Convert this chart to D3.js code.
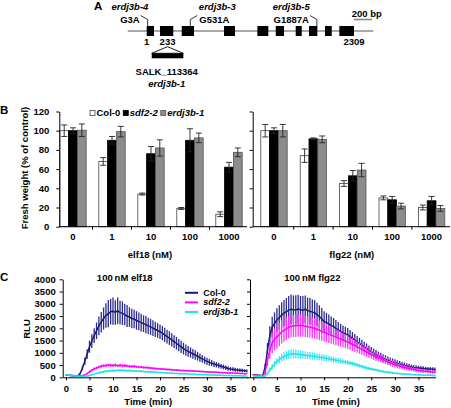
<!DOCTYPE html>
<html><head><meta charset="utf-8">
<script src="https://cdn.jsdelivr.net/npm/d3@7"></script>
<style>
body{margin:0;background:#fff}
svg text{font-family:"Liberation Sans",Arial,Helvetica,sans-serif;font-weight:bold;fill:#000;font-size:9.5px}
</style></head><body><svg id="c" width="451" height="408"></svg>
<script>
// ---------- Panel A data (bp) ----------
const geneLength = 2309;
const lineSpan = [-210, 2525];
const exonStarts = [1, 149, 391, 862, 1233, 1438, 1660, 1808, 1986, 2146];
const exonEnds   = [82, 297, 528, 984, 1355, 1530, 1727, 1901, 2061, 2309];
const posLabels = [1, 233, 2309];
const mutAlleles = ["erdj3b-4", "erdj3b-3", "erdj3b-5"];
const mutChanges = ["G3A", "G531A", "G1887A"];
const mutPositions = [3, 531, 1887];
const mutSides = ["left", "right", "left"];
const tdnaPos = 233;
const tdnaName = "SALK_113364";
const tdnaAllele = "erdj3b-1";
const scaleBarBp = 200;

// ---------- Panel B data ----------
const genotypes = ["Col-0", "sdf2-2", "erdj3b-1"];
const doses = ["0", "1", "10", "100", "1000"];
const bTicks = [0, 20, 40, 60, 80, 100, 120];
const elf18Col0 = [100, 68, 34, 19, 13];
const elf18Sdf  = [100, 90, 76, 90, 62];
const elf18Erd  = [100.5, 99, 82, 92.5, 77.5];
const elf18Col0Err = [6, 4, 1, 1, 2.5];
const elf18SdfErr  = [3, 4, 7.5, 12, 5];
const elf18ErdErr  = [6.5, 5.5, 8.5, 5, 4.5];
const flg22Col0 = [100, 74, 45, 30, 20];
const flg22Sdf  = [100, 91.5, 53, 28, 27];
const flg22Erd  = [100, 91, 59, 21.5, 19];
const flg22Col0Err = [6.5, 7, 3, 2, 2.5];
const flg22SdfErr  = [3, 1, 5.5, 3.5, 4.5];
const flg22ErdErr  = [6.5, 3.5, 7, 3, 3];

// ---------- Panel C data (RLU, every 0.5 min from 0 to 38.5) ----------
const times = d3.range(0, 39, 0.5);
const cTicksY = [0, 500, 1000, 1500, 2000, 2500, 3000, 3500, 4000];
const cTicksX = [0, 5, 10, 15, 20, 25, 30, 35];
const elfCol0 = [90,80,70,60,50,50,150,380,650,950, 1250,1480,1700,1900,2100,2250,2400,2520,2600,2680, 2700,2650,2720,2640,2620,2560,2500,2460,2400,2380, 2320,2280,2230,2190,2150,2100,2060,2010,1960,1910, 1860,1800,1730,1660,1600,1530,1460,1390,1310,1240, 1170,1110,1060,1010,960,910,860,800,750,700, 650,610,580,540,510,480,450,420,390,360, 340,330,310,300,290,280,270,260];
const elfCol0Err = [30,30,25,25,20,20,40,90,150,200, 250,280,300,340,380,420,450,500,560,520, 560,500,540,480,480,440,450,400,400,380, 380,360,360,340,350,330,330,320,310,300, 300,290,290,280,280,270,260,260,250,250, 240,230,220,210,200,190,180,170,160,150, 150,140,130,120,110,110,100,100,90,90, 80,80,80,70,70,70,60,60];
const elfSdf = [100,90,80,70,60,60,60,70,90,150, 220,290,340,380,420,450,470,480,500,490, 480,500,470,490,470,480,460,450,440,450, 430,420,420,400,400,390,380,370,360,350, 340,340,330,320,320,310,300,300,290,280, 280,270,270,260,260,250,250,240,240,230, 230,220,220,210,210,200,200,190,190,180, 180,180,170,170,160,160,150,150];
const elfSdfErr = [20,20,20,20,20,20,20,20,30,40, 50,50,60,60,60,70,60,70,60,70, 60,70,60,70,60,60,60,60,50,60, 50,50,50,50,50,50,50,40,40,40, 40,40,40,40,40,40,40,40,30,30, 30,30,30,30,30,30,30,30,30,30, 30,30,30,30,30,30,20,20,20,20, 20,20,20,20,20,20,20,20];
const elfErd = [100,90,80,60,50,40,40,40,40,50, 70,100,130,160,190,210,230,250,260,270, 280,270,290,280,290,280,270,280,270,260, 260,250,250,240,230,230,220,210,210,200, 200,190,190,180,170,170,160,160,150,150, 140,140,130,130,120,120,110,110,100,100, 100,90,90,90,80,80,80,70,70,70, 70,60,60,60,60,50,50,50];
const elfErdErr = [20,20,20,20,20,20,20,20,20,20, 30,30,30,40,40,40,50,50,50,50, 50,50,50,50,50,50,50,50,40,40, 40,40,40,40,40,40,40,30,30,30, 30,30,30,30,30,30,30,30,30,30, 20,20,20,20,20,20,20,20,20,20, 20,20,20,20,20,20,20,20,20,20, 20,20,20,20,20,20,20,20];
const flgCol0 = [100,90,80,70,70,400,1100,1700,2050,2200, 2340,2440,2540,2620,2680,2740,2780,2760,2750,2790, 2760,2740,2780,2720,2700,2660,2640,2560,2480,2380, 2280,2230,2180,2120,2070,2000,1940,1870,1810,1770, 1730,1660,1590,1520,1450,1380,1310,1240,1180,1110, 1050,990,930,880,830,780,740,700,660,630, 600,570,540,510,480,460,440,420,400,390, 380,370,360,350,340,340,330,320];
const flgCol0Err = [30,30,30,30,30,150,300,380,420,450, 480,500,520,540,560,580,600,580,600,580, 560,580,560,540,540,520,500,480,460,450, 420,400,380,360,350,340,320,310,300,290, 280,270,260,250,240,230,220,210,200,190, 190,180,180,170,170,160,160,150,150,140, 140,130,130,120,120,110,110,100,100,100, 90,90,90,80,80,80,80,80];
const flgSdf = [80,70,60,60,60,200,700,1100,1400,1550, 1650,1750,1850,1920,1980,2040,2080,2100,2100,2120, 2100,2120,2080,2060,2050,2020,2000,1960,1920,1880, 1840,1800,1760,1720,1680,1640,1600,1560,1520,1480, 1440,1390,1340,1290,1240,1190,1140,1090,1040,990, 940,890,840,800,760,720,680,640,600,560, 520,490,460,430,400,380,360,340,320,300, 280,270,260,250,240,230,220,210];
const flgSdfErr = [30,30,30,30,30,100,250,350,420,450, 480,480,470,470,460,460,460,450,460,450, 450,450,440,440,430,430,420,410,400,390, 380,370,360,350,340,330,320,310,300,290, 280,270,260,250,240,230,220,210,200,190, 180,170,170,160,150,150,140,140,130,130, 120,120,110,110,100,100,100,90,90,90, 80,80,80,70,70,70,70,70];
const flgErd = [60,50,40,40,40,50,150,300,420,540, 650,720,800,850,900,930,950,960,950,940, 930,920,900,890,880,870,860,840,830,810, 800,780,760,740,720,700,680,660,640,620, 600,580,560,530,500,470,440,410,380,360, 340,320,300,280,260,240,220,210,200,180, 170,160,150,140,130,120,120,110,100,100, 100,90,90,80,80,80,70,70];
const flgErdErr = [20,20,20,20,20,30,60,90,110,130, 140,150,160,170,170,180,180,180,170,170, 170,160,160,150,150,150,140,140,140,130, 130,130,120,120,120,110,110,110,100,100, 100,90,90,90,80,80,80,70,70,70, 60,60,60,60,50,50,50,50,50,40, 40,40,40,40,40,30,30,30,30,30, 30,30,30,30,30,30,30,30];

// ---------- drawing ----------
const svg = d3.select("#c");
svg.append("rect").attr("width", 451).attr("height", 408).attr("fill", "#fff");

function txt(g, s, x, y, opts = {}) {
  const t = g.append("text").attr("x", x).attr("y", y).text(s);
  if (opts.anchor) t.attr("text-anchor", opts.anchor);
  if (opts.italic) t.style("font-style", "italic");
  if (opts.size) t.style("font-size", opts.size + "px");
  return t;
}

// panel letters
txt(svg, "A", 94, 10, {size: 11.5});
txt(svg, "B", 0, 114, {size: 11.5});
txt(svg, "C", 0, 281, {size: 11.5});

// ===== Panel A =====
const gA = svg.append("g");
const gx = d3.scaleLinear().domain([1, geneLength]).range([146.7, 354]);
const geneY = 31;
gA.append("line").attr("x1", gx(lineSpan[0])).attr("x2", gx(lineSpan[1]))
  .attr("y1", geneY).attr("y2", geneY).attr("stroke", "#555").attr("stroke-width", 1);
gA.selectAll("rect.exon").data(exonStarts).join("rect").attr("class", "exon")
  .attr("x", d => gx(d)).attr("width", (d, i) => gx(exonEnds[i]) - gx(d))
  .attr("y", geneY - 5).attr("height", 10).attr("fill", "#000");
posLabels.forEach(p => txt(gA, String(p), gx(p), 45, {anchor: "middle"}));
mutPositions.forEach((p, i) => {
  const lx = gx(p) + (mutSides[i] === "left" ? 0.8 : -4);
  const dir = mutSides[i] === "left" ? -1 : 1;
  gA.append("polyline")
    .attr("points", [[lx + dir * 7, 15.5], [lx, 19.5], [lx, geneY - 5]].map(q => q.join(",")).join(" "))
    .attr("fill", "none").attr("stroke", "#000").attr("stroke-width", 0.8);
  const ch = txt(gA, mutChanges[i], 0, 22.7);
  const w = ch.node().getComputedTextLength();
  const cx = dir < 0 ? lx - 8 - w / 2 : lx + 9 + w / 2;
  ch.attr("x", cx).attr("text-anchor", "middle");
  txt(gA, mutAlleles[i], cx + (dir > 0 ? 3 : 0), 10, {anchor: "middle", italic: true});
});
// T-DNA insertion
const tx = gx(tdnaPos);
gA.append("path").attr("d", `M${tx},46.7 L${tx - 15.8},53.3 L${tx + 15.8},53.3 Z`)
  .attr("fill", "#fff").attr("stroke", "#000").attr("stroke-width", 0.9);
gA.append("rect").attr("x", tx - 15.8).attr("y", 53.3).attr("width", 31.6).attr("height", 5).attr("fill", "#000");
txt(gA, tdnaName, tx - 0.8, 75, {anchor: "middle"});
txt(gA, tdnaAllele, tx - 0.8, 87, {anchor: "middle", italic: true});
// scale bar
txt(gA, scaleBarBp + " bp", 351.7, 16.7);
gA.append("line").attr("x1", 354).attr("x2", 354 + gx(scaleBarBp + 1) - gx(1))
  .attr("y1", 19.5).attr("y2", 19.5).attr("stroke", "#888").attr("stroke-width", 1.6);

// ===== Panel B =====
const yB = d3.scaleLinear().domain([0, 120]).range([226.7, 111.5]);
const barFill = ["#fff", "#000", "#8c8c8c"];
const barStroke = ["#444", "#000", "#555"];
const bPanels = [
  {means: [elf18Col0, elf18Sdf, elf18Erd], errs: [elf18Col0Err, elf18SdfErr, elf18ErdErr],
   range: [53.5, 248.5], axisX: 59.3, end: 247, labels: true, title: "elf18 (nM)"},
  {means: [flg22Col0, flg22Sdf, flg22Erd], errs: [flg22Col0Err, flg22SdfErr, flg22ErdErr],
   range: [254.3, 451.3], axisX: 252.7, end: 450, labels: false, title: "flg22 (nM)"}
];
bPanels.forEach(P => {
  const g = svg.append("g");
  const x = d3.scaleBand().domain(doses).range(P.range);
  const xi = d3.scaleBand().domain(genotypes).range([0, 26.4]);
  const off = (x.bandwidth() - 26.4) / 2;
  genotypes.forEach((gt, k) => {
    doses.forEach((d, i) => {
      const m = P.means[k][i], e = P.errs[k][i];
      const bx = x(d) + off + xi(gt);
      g.append("rect").attr("x", bx).attr("y", yB(m)).attr("width", xi.bandwidth())
        .attr("height", yB(0) - yB(m)).attr("fill", barFill[k]).attr("stroke", barStroke[k]).attr("stroke-width", 0.8);
      const cx = bx + xi.bandwidth() / 2;
      const eg = g.append("g").attr("stroke", "#222").attr("stroke-width", 0.9);
      eg.append("line").attr("x1", cx).attr("x2", cx).attr("y1", yB(m - e)).attr("y2", yB(m + e));
      [m - e, m + e].forEach(v => eg.append("line").attr("x1", cx - 3).attr("x2", cx + 3).attr("y1", yB(v)).attr("y2", yB(v)));
    });
  });
  const ax = d3.axisLeft(yB).tickValues(bTicks).tickSize(3).tickSizeOuter(0).tickPadding(7);
  if (!P.labels) ax.tickFormat("");
  const ag = g.append("g").attr("transform", `translate(${P.axisX},0)`).call(ax);
  ag.attr("font-size", null).attr("font-family", null);
  g.append("line").attr("x1", P.axisX).attr("x2", P.end).attr("y1", yB(0)).attr("y2", yB(0)).attr("stroke", "#000");
  doses.slice(0, -1).forEach(d => {
    const tx2 = x(d) + x.bandwidth();
    g.append("line").attr("x1", tx2).attr("x2", tx2).attr("y1", yB(0)).attr("y2", yB(0) + 3).attr("stroke", "#000");
  });
  doses.forEach(d => txt(g, d, x(d) + x.bandwidth() / 2, 239.5, {anchor: "middle"}));
  txt(g, P.title, (x.range()[0] + x.range()[1]) / 2 - 1, 258, {anchor: "middle"});
});
txt(svg, "Fresh weight (% of control)", 0, 0, {anchor: "middle"})
  .attr("transform", "translate(28,168) rotate(-90)");
{
  let lx = 90;
  genotypes.forEach((gt, k) => {
    svg.append("rect").attr("x", lx).attr("y", 110.5).attr("width", 5).attr("height", 5)
      .attr("fill", barFill[k]).attr("stroke", barStroke[k]).attr("stroke-width", 0.8);
    const t = txt(svg, gt, lx + 6.5, 116, {italic: k > 0});
    lx += 6.5 + t.node().getComputedTextLength() + 3;
  });
}

// ===== Panel C =====
const yC = d3.scaleLinear().domain([0, 4000]).range([377.3, 279.3]);
const cSeriesColor = ["#1a1a78", "#ff00ff", "#22e0ee"];
const cErrColor = ["#2c2c90", "#ff33ff", "#44e6f2"];
const cPanels = [
  {series: [elfCol0, elfSdf, elfErd], errs: [elfCol0Err, elfSdfErr, elfErdErr], range: [62.7, 247.4], labels: true, title: "100\u2009nM elf18"},
  {series: [flgCol0, flgSdf, flgErd], errs: [flgCol0Err, flgSdfErr, flgErdErr], range: [250.0, 435.5], labels: false, title: "100\u2009nM flg22"}
];
cPanels.forEach(P => {
  const g = svg.append("g");
  const x = d3.scaleLinear().domain([-0.7, 38.6]).range(P.range);
  P.series.forEach((s, k) => {
    const eg = g.append("g").attr("stroke", cErrColor[k]).attr("stroke-width", 1.3);
    s.forEach((m, i) => {
      const e = P.errs[k][i];
      eg.append("line").attr("x1", x(times[i])).attr("x2", x(times[i]))
        .attr("y1", yC(Math.max(0, m - e))).attr("y2", yC(m + e));
    });
    g.append("path").datum(s).attr("fill", "none").attr("stroke", cSeriesColor[k]).attr("stroke-width", 1.5)
      .attr("d", d3.line().x((d, i) => x(times[i])).y(d => yC(d)));
  });
  const ax = d3.axisLeft(yC).tickValues(cTicksY).tickSize(3).tickSizeOuter(0).tickPadding(4)
    .tickFormat(P.labels ? d3.format("d") : "");
  const ag = g.append("g").attr("transform", `translate(${P.range[0]},0)`).call(ax);
  ag.attr("font-size", null).attr("font-family", null);
  const bx = d3.axisBottom(x).tickValues(cTicksX).tickSize(3).tickSizeOuter(0).tickPadding(5);
  const bg = g.append("g").attr("transform", `translate(0,${yC(0)})`).call(bx);
  bg.attr("font-size", null).attr("font-family", null);
  txt(g, P.title, x(12.5), 281, {anchor: "middle"});
  txt(g, "Time (min)", x(17.5), 405, {anchor: "middle"});
});
txt(svg, "RLU", 0, 0, {anchor: "middle"}).attr("transform", "translate(30,329) rotate(-90)");
genotypes.forEach((gt, k) => {
  const ly = [292.8, 302.4, 312][k];
  svg.append("line").attr("x1", 185).attr("x2", 198).attr("y1", ly).attr("y2", ly)
    .attr("stroke", cSeriesColor[k]).attr("stroke-width", 2);
  txt(svg, gt, 203.3, ly + 3, {italic: k > 0, size: 9});
});
</script></body></html>
